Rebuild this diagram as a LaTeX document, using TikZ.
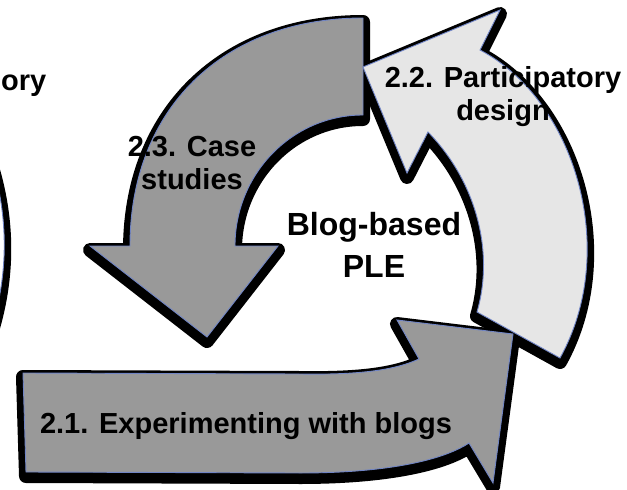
\documentclass[tikz,border=0pt]{standalone}
\usepackage{fontspec}
\setmainfont{Liberation Sans}
\usepackage{tikz}
\pgfdeclarelayer{bg}
\pgfsetlayers{bg,main}
\definecolor{arrowgray}{RGB}{153,153,153}
\definecolor{arrowlight}{RGB}{230,230,230}
\definecolor{rimblue}{RGB}{112,132,196}
\tikzset{
    cyclearrow/.style={draw=rimblue, line width=0.9pt, line join=miter},
    shade/.style={fill=black, draw=black, line width=14pt, line join=round,
        yshift=-4pt},
    every node/.style={inner sep=0pt, align=center,
        font=\bfseries\fontsize{29}{33}\selectfont}
}
\newcommand{\blogsArrow}[1]{%
  \path[#1] (23,373) -- (300,374) .. controls (360,375) and (395,370) .. (419,359)
    -- (397,320) -- (513,334) -- (493,483) -- (469,443)
    .. controls (440,462) and (380,473) .. (300,473) -- (26,472) -- cycle;}
\newcommand{\caseArrow}[1]{%
  \path[#1] (363,18) -- (363,115) .. controls (292,115) and (235,174) .. (235,246)
    -- (278,246) -- (207,337) -- (90,246) -- (130,246)
    .. controls (130,109) and (223,18) .. (363,18) -- cycle;}
\newcommand{\designArrow}[1]{%
  \path[#1] (477,312) .. controls (495,250) and (475,180) .. (428,132)
    -- (407,173) -- (363,67) -- (500,10) -- (480,50)
    .. controls (575,100) and (620,250) .. (560,358) -- cycle;}
\newcommand{\edgePiece}[1]{%
  \path[#1] (-34,100) .. controls (17,197) and (17,293) .. (-34,390)
    -- (-60,390) -- (-60,100) -- cycle;}

\begin{document}
\begin{tikzpicture}[x=1pt, y=-1pt]
	\useasboundingbox (0,0) rectangle (627,490);
	\begin{pgfonlayer}{bg}
		\edgePiece{shade} \blogsArrow{shade} \caseArrow{shade} \designArrow{shade}
	\end{pgfonlayer}
	\edgePiece{cyclearrow, fill=white}
	\blogsArrow{cyclearrow, fill=arrowgray}
	\caseArrow{cyclearrow, fill=arrowgray}
	\designArrow{cyclearrow, fill=arrowlight}

	\node (ory) [anchor=base west] at (1,90) {ory};
	\node (case) at (192,163) {2.3. Case\\studies};
	\node (design) at (503,97) {2.2. Participatory\\design};
	\node (ple) [font=\bfseries\fontsize{32}{42}\selectfont] at (374,245) {Blog-based\\PLE};
	\node (blogs) [anchor=base] at (246,433) {2.1. Experimenting with blogs};
\end{tikzpicture}
\end{document}
